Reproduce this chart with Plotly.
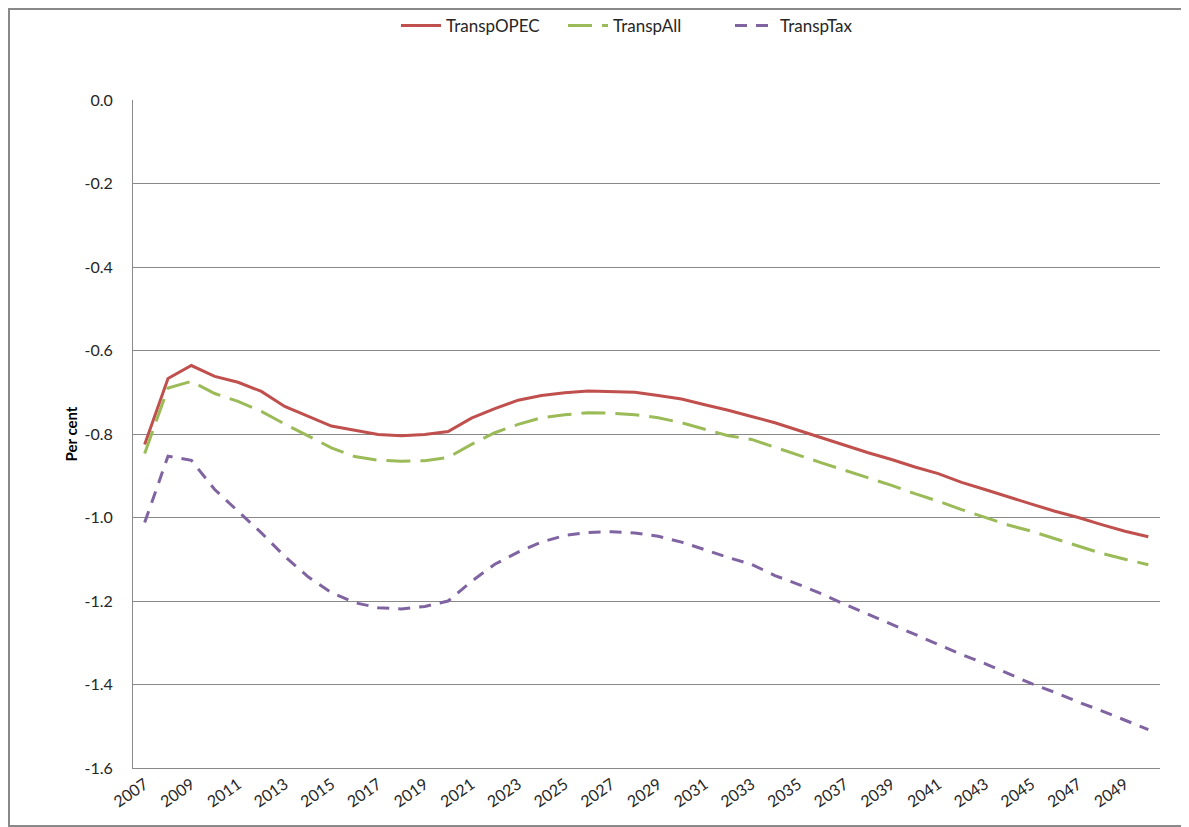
import plotly.graph_objects as go

years = [str(y) for y in range(2007, 2051)]
tick_labels = [str(y) for y in range(2007, 2051, 2)]

transp_opec = [-0.825, -0.667, -0.636, -0.662, -0.676, -0.698, -0.734, -0.758, -0.781, -0.791,
               -0.801, -0.804, -0.801, -0.794, -0.762, -0.739, -0.719, -0.708, -0.701, -0.697,
               -0.699, -0.700, -0.708, -0.716, -0.730, -0.743, -0.758, -0.773, -0.791, -0.809,
               -0.828, -0.845, -0.861, -0.879, -0.895, -0.916, -0.933, -0.951, -0.968, -0.985,
               -1.000, -1.017, -1.033, -1.046]
transp_all = [-0.847, -0.690, -0.674, -0.703, -0.722, -0.746, -0.776, -0.804, -0.833, -0.854,
              -0.863, -0.865, -0.864, -0.856, -0.825, -0.797, -0.777, -0.761, -0.754, -0.749,
              -0.750, -0.754, -0.761, -0.773, -0.788, -0.804, -0.813, -0.832, -0.851, -0.869,
              -0.887, -0.905, -0.923, -0.943, -0.961, -0.981, -1.000, -1.018, -1.033, -1.051,
              -1.068, -1.086, -1.100, -1.113]
transp_tax = [-1.012, -0.853, -0.863, -0.933, -0.985, -1.037, -1.093, -1.142, -1.180, -1.204,
              -1.216, -1.219, -1.213, -1.200, -1.153, -1.112, -1.083, -1.059, -1.043, -1.036,
              -1.034, -1.037, -1.045, -1.059, -1.077, -1.096, -1.112, -1.139, -1.160, -1.183,
              -1.208, -1.232, -1.256, -1.280, -1.304, -1.328, -1.350, -1.374, -1.398, -1.419,
              -1.442, -1.463, -1.485, -1.508]

y_ticks = [0.0, -0.2, -0.4, -0.6, -0.8, -1.0, -1.2, -1.4, -1.6]

fig = go.Figure()
fig.add_trace(go.Scatter(x=years, y=transp_opec, name="TranspOPEC", mode="lines",
                         line=dict(color="#C0504D", width=3)))
fig.add_trace(go.Scatter(x=years, y=transp_all, name="TranspAll", mode="lines",
                         line=dict(color="#9BBB59", width=3, dash="24px,10px")))
fig.add_trace(go.Scatter(x=years, y=transp_tax, name="TranspTax", mode="lines",
                         line=dict(color="#8064A2", width=3, dash="12px,9px")))

font_family = "Lato, 'Open Sans', sans-serif"
fig.update_layout(
    width=1181, height=819,
    margin=dict(l=125, r=29, t=92, b=59, autoexpand=False),
    paper_bgcolor="white", plot_bgcolor="white",
    font=dict(family=font_family, size=15, color="#262626"),
    showlegend=True,
    legend=dict(orientation="h", x=0.5, xanchor="center", y=1.0, yanchor="top",
                yref="container", font=dict(size=17, color="#262626"),
                itemwidth=40, entrywidth=112, tracegroupgap=0, bgcolor="rgba(0,0,0,0)"),
    xaxis=dict(type="category", range=[-0.5, 43.5], tickmode="array",
               tickvals=tick_labels, ticktext=tick_labels, tickangle=-35,
               showgrid=False, showline=True, linecolor="#898989", linewidth=1,
               ticks="", automargin=False, tickfont=dict(size=16, color="#262626")),
    yaxis=dict(range=[-1.6, 0.0], tickmode="array", tickvals=y_ticks,
               ticktext=[f"{v:.1f}" for v in y_ticks],
               showgrid=True, gridcolor="#898989", gridwidth=1,
               showline=True, linecolor="#898989", linewidth=1, zeroline=False,
               ticks="", ticklabelstandoff=16, automargin=False,
               tickfont=dict(size=16, color="#262626"),
               title=dict(text="<b>Per cent</b>", font=dict(size=15, color="#000000"), standoff=3)),
)
fig.add_shape(type="rect", xref="paper", yref="paper",
              x0=-124/1027, x1=(1027+28)/1027, y0=-58/668, y1=(668+91)/668,
              line=dict(color="#898989", width=2), layer="below")

fig.write_html("out.html")
